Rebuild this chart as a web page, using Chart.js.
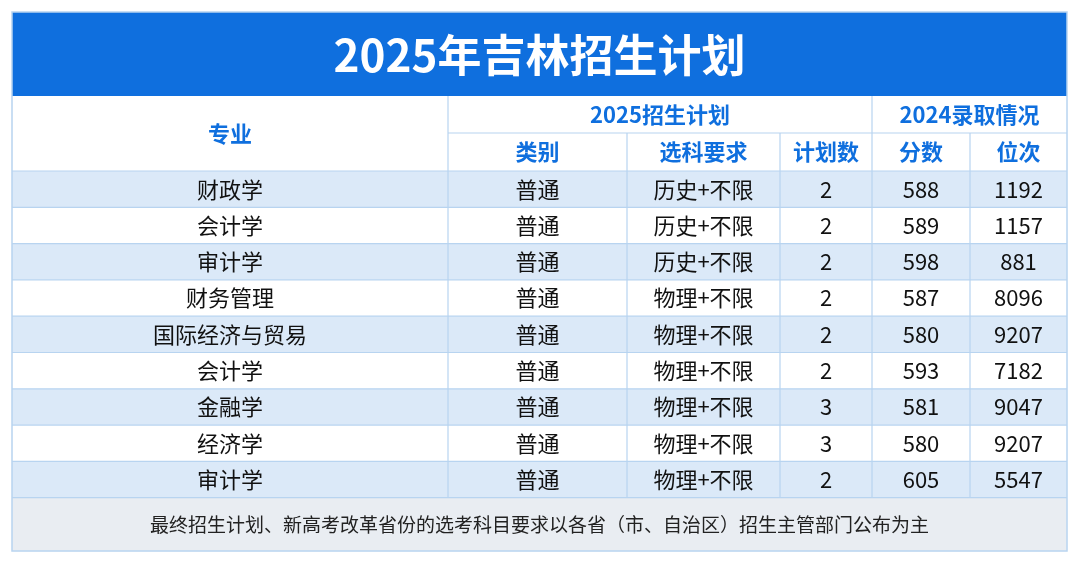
<!DOCTYPE html>
<html><head><meta charset="utf-8">
<script src="https://cdn.jsdelivr.net/npm/chart.js@4"></script>
<style>html,body{margin:0;padding:0;background:#fff}canvas{display:block}</style>
</head><body>
<canvas id="c" width="1080" height="564"></canvas>
<script>
const title = '2025年吉林招生计划';
const majors = ['财政学','会计学','审计学','财务管理','国际经济与贸易','会计学','金融学','经济学','审计学'];
const types = ['普通','普通','普通','普通','普通','普通','普通','普通','普通'];
const subjects = ['历史+不限','历史+不限','历史+不限','物理+不限','物理+不限','物理+不限','物理+不限','物理+不限','物理+不限'];
const plans = [2,2,2,2,2,2,3,3,2];
const scores = [588,589,598,587,580,593,581,580,605];
const ranks = [1192,1157,881,8096,9207,7182,9047,9207,5547];
const groupHeaders = ['2025招生计划','2024录取情况'];
const colHeaders = ['专业','类别','选科要求','计划数','分数','位次'];
const footer = '最终招生计划、新高考改革省份的选考科目要求以各省（市、自治区）招生主管部门公布为主';

const colEdges = [12,448,627,780,872,970,1067];
const T0=12,T1=96,H1=133,H2=171,R0=171,RH=36.3,F1=551;
const FONT='"Noto Sans CJK SC","Noto Sans",sans-serif';
const BLUE='#0f6fde', GRID='#b8d4f0', ALT='#dbe9f8';

const tablePlugin = {
  id:'table',
  afterDraw(chart){
    const ctx=chart.ctx, xs=chart.scales.x, ys=chart.scales.y;
    const X=v=>xs.getPixelForValue(v), Y=v=>ys.getPixelForValue(v);
    const rect=(x0,y0,x1,y1,fill)=>{ctx.fillStyle=fill;ctx.fillRect(X(x0),Y(y0),X(x1)-X(x0),Y(y1)-Y(y0));};
    const text=(s,cx,cy,font,color)=>{ctx.font=font;ctx.fillStyle=color;ctx.textAlign='center';ctx.textBaseline='middle';ctx.fillText(s,X(cx),Y(cy));};
    const line=(x0,y0,x1,y1)=>{ctx.strokeStyle=GRID;ctx.lineWidth=1.2;ctx.beginPath();ctx.moveTo(X(x0),Y(y0));ctx.lineTo(X(x1),Y(y1));ctx.stroke();};
    const L=colEdges[0], R=colEdges[6];
    ctx.save();
    // title
    rect(L,T0,R,T1,BLUE);
    text(title,(L+R)/2,(T0+T1)/2+1,'bold 44px '+FONT,'#fff');
    // header
    rect(L,T1,R,H2,'#fff');
    text(colHeaders[0],(colEdges[0]+colEdges[1])/2,(T1+H2)/2,'bold 22px '+FONT,BLUE);
    text(groupHeaders[0],(colEdges[1]+colEdges[4])/2,(T1+H1)/2,'bold 22px '+FONT,BLUE);
    text(groupHeaders[1],(colEdges[4]+colEdges[6])/2,(T1+H1)/2,'bold 22px '+FONT,BLUE);
    for(let c=1;c<6;c++) text(colHeaders[c],(colEdges[c]+colEdges[c+1])/2,(H1+H2)/2,'bold 22px '+FONT,BLUE);
    // rows
    const cols=[majors,types,subjects,plans,scores,ranks];
    for(let r=0;r<majors.length;r++){
      const y0=R0+r*RH, y1=y0+RH;
      rect(L,y0,R,y1, r%2===0?ALT:'#fff');
      for(let c=0;c<6;c++) text(String(cols[c][r]),(colEdges[c]+colEdges[c+1])/2,(y0+y1)/2,'22px '+FONT,'#111');
    }
    const RE=R0+majors.length*RH;
    rect(L,RE,R,F1,'#e9edf2');
    text(footer,(L+R)/2,(RE+F1)/2,'19px '+FONT,'#222');
    // grid lines
    line(colEdges[1],H1,R,H1);
    for(let r=0;r<=majors.length;r++) line(L,R0+r*RH,R,R0+r*RH);
    line(colEdges[1],T1,colEdges[1],RE);
    line(colEdges[4],T1,colEdges[4],RE);
    [2,3,5].forEach(c=>line(colEdges[c],H1,colEdges[c],RE));
    ctx.strokeStyle=GRID;ctx.lineWidth=1.5;
    ctx.strokeRect(X(L),Y(T0),X(R)-X(L),Y(F1)-Y(T0));
    ctx.restore();
  }
};

new Chart(document.getElementById('c'),{
  type:'scatter',
  data:{datasets:[{data:[],pointRadius:0}]},
  options:{
    responsive:false,animation:false,
    layout:{padding:0},
    plugins:{legend:{display:false},tooltip:{enabled:false}},
    scales:{
      x:{type:'linear',min:0,max:1080,display:false},
      y:{type:'linear',min:0,max:564,reverse:true,display:false}
    }
  },
  plugins:[tablePlugin]
});
</script>
</body></html>
